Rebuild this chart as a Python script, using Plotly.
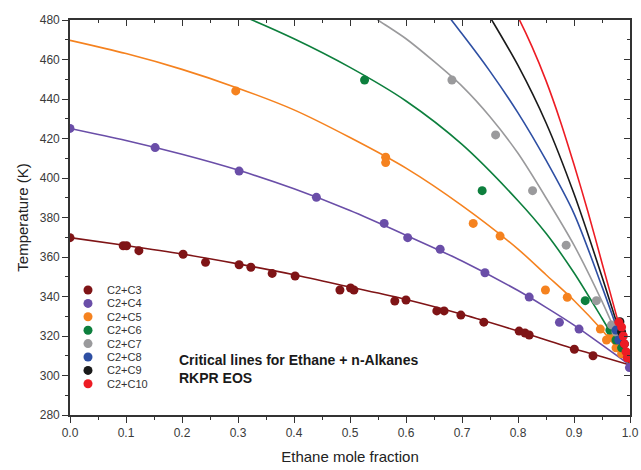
import plotly.graph_objects as go

# ---------------- data ----------------
series_names = ["C2+C3", "C2+C4", "C2+C5", "C2+C6", "C2+C7", "C2+C8", "C2+C9", "C2+C10"]
series_colors = ["#7f1416", "#6a4ea8", "#f5821f", "#0d7f3d", "#9a9a9c", "#2e4fa3", "#1a1a1a", "#ed1c24"]

# experimental points (ethane mole fraction, temperature K)
exp_c3_x = [0.0, 0.095, 0.101, 0.123, 0.202, 0.242, 0.302, 0.323, 0.361, 0.402, 0.482, 0.501, 0.507,
            0.580, 0.600, 0.655, 0.668, 0.698, 0.739, 0.802, 0.8125, 0.820, 0.9006, 0.934]
exp_c3_t = [369.8, 365.7, 365.7, 363.2, 361.4, 357.3, 356.1, 354.8, 351.7, 350.4, 343.3, 344.3, 343.3,
            337.7, 338.2, 332.7, 332.7, 330.6, 327.0, 322.5, 321.5, 320.5, 313.3, 310.0]
exp_c4_x = [0.0, 0.152, 0.302, 0.440, 0.561, 0.603, 0.661, 0.741, 0.820, 0.874, 0.909, 0.999]
exp_c4_t = [425.1, 415.4, 403.5, 390.2, 377.0, 369.8, 363.9, 352.0, 339.7, 326.9, 323.5, 304.0]
exp_c5_x = [0.296, 0.5637, 0.5637, 0.720, 0.768, 0.849, 0.888, 0.947, 0.958, 0.965, 0.975, 0.985]
exp_c5_t = [444.1, 410.5, 407.8, 377.0, 370.6, 343.3, 339.6, 323.5, 318.0, 319.5, 314.0, 311.0]
exp_c6_x = [0.526, 0.736, 0.920, 0.964, 0.975, 0.985]
exp_c6_t = [449.6, 393.6, 337.9, 323.0, 318.0, 314.0]
exp_c7_x = [0.682, 0.760, 0.826, 0.886, 0.940, 0.967, 0.975]
exp_c7_t = [449.6, 421.8, 393.6, 366.0, 337.9, 325.6, 322.0]
exp_c8_x = [0.975, 0.980]
exp_c8_t = [323.0, 318.0]
exp_c9_x = [0.982, 0.985, 0.990]
exp_c9_t = [327.2, 322.0, 316.0]
exp_c10_x = [0.980, 0.985, 0.988, 0.990, 0.993, 0.995]
exp_c10_t = [327.0, 324.5, 320.0, 316.0, 312.0, 309.0]

# model critical lines (RKPR EOS)
eos_c3_x = [0.0, 0.1, 0.2, 0.3, 0.4, 0.5, 0.6, 0.7, 0.8, 0.9, 0.95, 1.0]
eos_c3_t = [369.8, 365.8, 361.5, 356.5, 351.0, 344.8, 338.5, 331.0, 322.5, 313.5, 309.5, 305.3]
eos_c4_x = [0.0, 0.1, 0.2, 0.3, 0.4, 0.5, 0.6, 0.7, 0.8, 0.85, 0.9, 0.95, 1.0]
eos_c4_t = [425.1, 419.0, 412.0, 404.0, 394.5, 383.5, 371.0, 358.0, 343.0, 334.5, 325.5, 315.5, 305.3]
eos_c5_x = [0.0, 0.1, 0.2, 0.3, 0.4, 0.5, 0.6, 0.7, 0.8, 0.85, 0.9, 0.95, 1.0]
eos_c5_t = [469.7, 463.0, 455.0, 445.5, 434.5, 420.5, 405.0, 386.0, 364.0, 351.0, 338.0, 323.0, 305.3]
eos_c6_x = [0.2, 0.3, 0.4, 0.5, 0.6, 0.7, 0.8, 0.85, 0.9, 0.95, 1.0]
eos_c6_t = [494.0, 483.0, 470.5, 456.0, 439.0, 417.0, 388.5, 372.0, 352.0, 329.0, 305.3]
eos_c7_x = [0.5, 0.55, 0.6, 0.65, 0.7, 0.75, 0.8, 0.85, 0.9, 0.95, 1.0]
eos_c7_t = [490.0, 480.0, 470.5, 459.0, 446.5, 431.0, 412.5, 390.0, 366.0, 337.5, 305.3]
eos_c8_x = [0.6, 0.65, 0.7, 0.75, 0.8, 0.85, 0.9, 0.95, 1.0]
eos_c8_t = [506.0, 491.0, 473.0, 454.0, 433.0, 409.0, 382.0, 345.0, 305.3]
eos_c9_x = [0.7, 0.75, 0.8, 0.85, 0.9, 0.95, 1.0]
eos_c9_t = [505.0, 481.5, 457.0, 428.0, 392.0, 350.0, 305.3]
eos_c10_x = [0.775, 0.8, 0.825, 0.85, 0.875, 0.9, 0.925, 0.95, 0.975, 1.0]
eos_c10_t = [494.5, 481.5, 466.5, 449.3, 429.3, 406.8, 382.8, 357.0, 331.2, 305.3]

exp_x = [exp_c3_x, exp_c4_x, exp_c5_x, exp_c6_x, exp_c7_x, exp_c8_x, exp_c9_x, exp_c10_x]
exp_t = [exp_c3_t, exp_c4_t, exp_c5_t, exp_c6_t, exp_c7_t, exp_c8_t, exp_c9_t, exp_c10_t]
eos_x = [eos_c3_x, eos_c4_x, eos_c5_x, eos_c6_x, eos_c7_x, eos_c8_x, eos_c9_x, eos_c10_x]
eos_t = [eos_c3_t, eos_c4_t, eos_c5_t, eos_c6_t, eos_c7_t, eos_c8_t, eos_c9_t, eos_c10_t]

x_ticks = [0.0, 0.1, 0.2, 0.3, 0.4, 0.5, 0.6, 0.7, 0.8, 0.9, 1.0]
y_ticks = [280, 300, 320, 340, 360, 380, 400, 420, 440, 460, 480]

title_lines = ["Critical lines for Ethane + n-Alkanes", "RKPR EOS"]

# ---------------- figure ----------------
FONT = "Liberation Sans, Arial, sans-serif"
W, H = 641, 470
ML, MR, MT, MB = 70, 11, 20, 55
PW, PH = W - ML - MR, H - MT - MB

def px_to_paper(px, py):
    return (px - ML) / PW, 1 - (py - MT) / PH

fig = go.Figure()

for name, col, xs, ts in zip(series_names, series_colors, eos_x, eos_t):
    fig.add_trace(go.Scatter(x=xs, y=ts, mode="lines", line=dict(color=col, width=1.6, shape="spline", smoothing=0.8),
                             showlegend=False, hoverinfo="skip"))

for name, col, xs, ts in zip(series_names, series_colors, exp_x, exp_t):
    fig.add_trace(go.Scatter(x=xs, y=ts, mode="markers", name=name, showlegend=False,
                             marker=dict(color=col, size=9, line=dict(width=0))))

# invisible trace to anchor mirrored (top/right) axes
fig.add_trace(go.Scatter(x=[0.5], y=[380], xaxis="x2", yaxis="y2", mode="markers",
                         marker=dict(opacity=0), showlegend=False, hoverinfo="skip"))

# hand-made legend (compact spacing as in the reference) on a hidden full-domain axis pair
leg_px_x, leg_px_y0, leg_dy = 88, 290, 13.4
leg_x, leg_y = [], []
for i in range(len(series_names)):
    lx, ly = px_to_paper(leg_px_x, leg_px_y0 + i * leg_dy)
    leg_x.append(lx)
    leg_y.append(ly)
fig.add_trace(go.Scatter(x=leg_x, y=leg_y, xaxis="x3", yaxis="y3", mode="markers",
                         marker=dict(color=series_colors, size=9, line=dict(width=0)),
                         showlegend=False, hoverinfo="skip", cliponaxis=False))
for name, lx, ly in zip(series_names, leg_x, leg_y):
    tx, _ = px_to_paper(105, 0)
    fig.add_annotation(x=tx, y=ly, xref="paper", yref="paper", xanchor="left", yanchor="middle",
                       text=name, showarrow=False, font=dict(family=FONT, size=11, color="#333"))

axis_col = "#333333"
common = dict(showline=True, linecolor=axis_col, linewidth=1.6, showgrid=False, zeroline=False, automargin=False,
              tickcolor=axis_col, tickwidth=1.2, tickfont=dict(family=FONT, size=12, color="#3a3a3a"))

fig.update_layout(
    width=W, height=H,
    margin=dict(l=ML, r=MR, t=MT, b=MB),
    paper_bgcolor="white", plot_bgcolor="white",
    font=dict(family=FONT),
    showlegend=False,
    xaxis=dict(range=[0, 1], tickvals=x_ticks, ticktext=[f"{v:.1f}" for v in x_ticks],
               ticks="outside", ticklen=6,
               minor=dict(dtick=0.05, ticks="outside", ticklen=3, tickcolor=axis_col),
               title=dict(text="Ethane mole fraction", font=dict(family=FONT, size=15, color="#222"), standoff=12),
               **common),
    yaxis=dict(range=[280, 480], tickvals=y_ticks, ticks="outside", ticklen=6,
               minor=dict(dtick=10, ticks="outside", ticklen=3, tickcolor=axis_col),
               title=dict(text="Temperature (K)", font=dict(family=FONT, size=15, color="#222"), standoff=8),
               **common),
    xaxis2=dict(range=[0, 1], overlaying="x", side="top", anchor="y", tickvals=x_ticks,
                ticks="inside", ticklen=6, showticklabels=False,
                minor=dict(dtick=0.05, ticks="inside", ticklen=3, tickcolor=axis_col),
                **common),
    yaxis2=dict(range=[280, 480], overlaying="y", side="right", anchor="x", tickvals=y_ticks,
                ticks="inside", ticklen=6, showticklabels=False,
                minor=dict(dtick=10, ticks="inside", ticklen=3, tickcolor=axis_col),
                **common),
    xaxis3=dict(range=[0, 1], overlaying="x", anchor="y3", visible=False, automargin=False),
    yaxis3=dict(range=[0, 1], overlaying="y", anchor="x3", visible=False, automargin=False),
)

ax, ay = px_to_paper(177, 369)
fig.add_annotation(x=ax, y=ay, xref="paper", yref="paper", xanchor="left", yanchor="middle",
                   text="<b>" + title_lines[0] + "<br>" + title_lines[1] + "</b>", align="left",
                   showarrow=False, font=dict(family=FONT, size=14, color="#1a1a1a"))

fig.write_html("out.html")
